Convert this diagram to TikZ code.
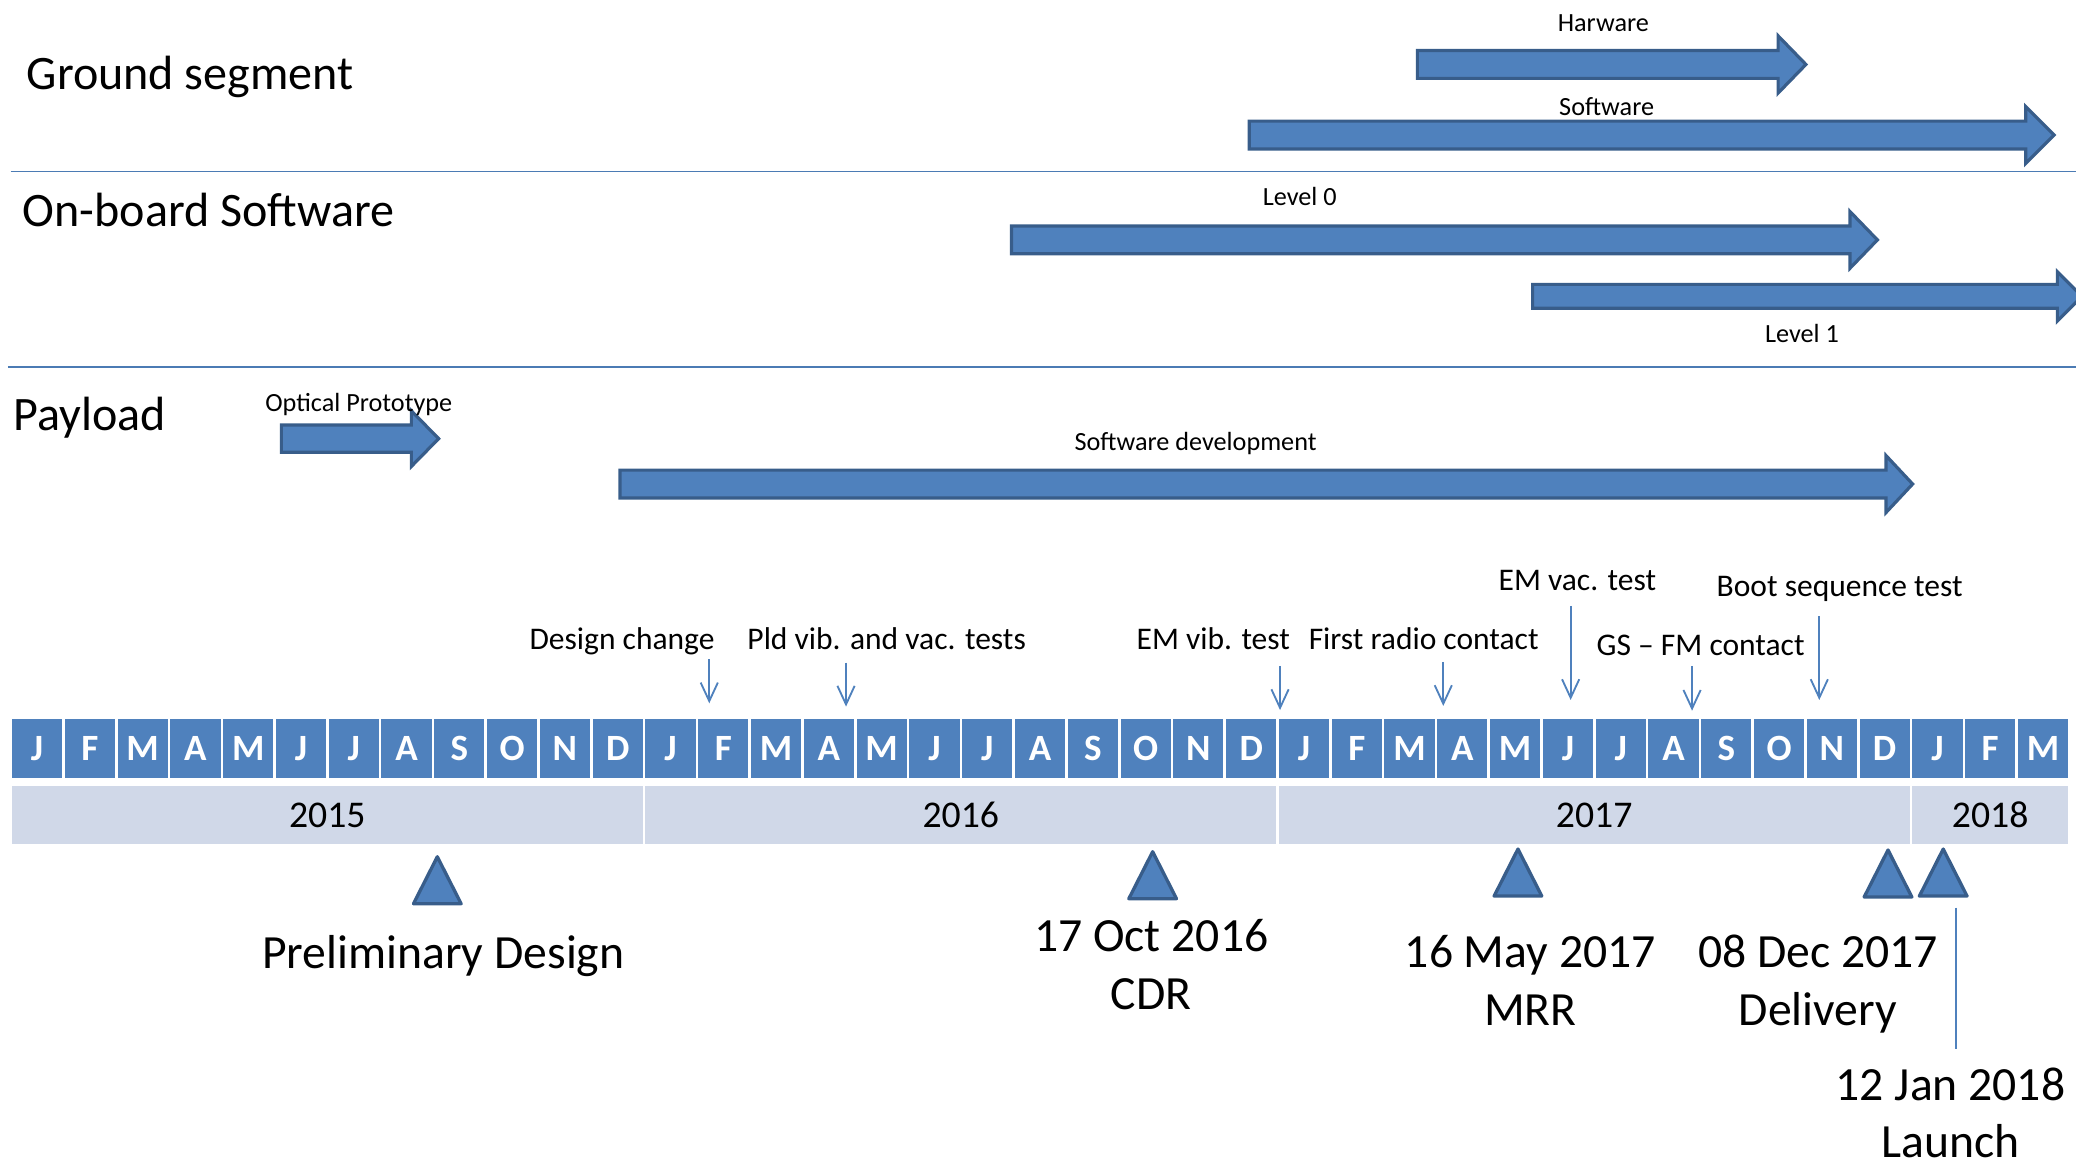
\documentclass[tikz,border=0pt]{standalone}
\usepackage{fontspec}
\setmainfont{Carlito}
\usetikzlibrary{arrows.meta}

\definecolor{barblue}{HTML}{4F81BD}
\definecolor{bardark}{HTML}{385D8A}
\definecolor{yearbg}{HTML}{D0D8E8}

\tikzset{
  section/.style={font=\fontsize{36.3}{43}\selectfont,anchor=base west,inner sep=0},
  barlabel/.style={font=\fontsize{19.8}{24}\selectfont,anchor=base,inner sep=0},
  evlabel/.style={font=\fontsize{23.8}{28}\selectfont,anchor=base,inner sep=0},
  mslabel/.style={font=\fontsize{36}{43.5}\selectfont,anchor=base,inner sep=0,align=center},
  month/.style={fill=barblue,text=white,inner sep=0,minimum width=37.9pt,minimum height=44.4pt,
    font=\bfseries\fontsize{28}{28}\selectfont},
  yearbox/.style={fill=yearbg,inner sep=0,minimum height=44pt,font=\fontsize{28.5}{28.5}\selectfont},
  blockarr/.style={fill=barblue,draw=bardark,line width=2.4pt,line join=miter},
  evarrow/.style={draw=barblue,line width=1.4pt,-{Straight Barb[length=14pt,width=13pt]}},
  mstone/.style={fill=barblue,draw=bardark,line width=2.5pt,line join=round},
  sepline/.style={draw=barblue!95!black,line width=1.4pt}
}

% start x, head base x, tip x, centre y, half shaft, half head
\newcommand{\blockarrow}[6]{%
  \draw[blockarr] (#1,#4-#5) -- (#2,#4-#5) -- (#2,#4-#6) -- (#3,#4) -- (#2,#4+#6)
    -- (#2,#4+#5) -- (#1,#4+#5) -- cycle;}
% apex x, apex y
\newcommand{\milestone}[2]{%
  \draw[mstone] (#1,#2+1.3) -- (#1+18,#2+36.8) -- (#1-18,#2+36.8) -- cycle;}

\begin{document}
\begin{tikzpicture}[x=1pt,y=-1pt]
\useasboundingbox (0,0) rectangle (1568,882);
\clip (0,0) rectangle (1568,882);

% sections
\node[section] (ground) at (20,67.5) {Ground segment};
\node[section] (obsw) at (17,171) {On-board Software};
\node[section] (payload) at (10,325.3) {Payload};
\draw[sepline] (8,129.5) -- (1568,129.5);
\draw[sepline] (6,277.5) -- (1568,277.5);

% work packages
\blockarrow{1070.5}{1343}{1364}{48.7}{10.5}{21.6}
\node[barlabel] (hw) at (1211,24) {Harware};
\blockarrow{943.6}{1530}{1551.4}{102}{10.5}{21.5}
\node[barlabel] (gssw) at (1213.5,87) {Software};
\blockarrow{764}{1397.3}{1418}{181.2}{10.5}{21.4}
\node[barlabel] (lvl0) at (981.7,155.4) {Level 0};
\blockarrow{1157.6}{1553.9}{1572.5}{223.8}{9}{18.6}
\node[barlabel] (lvl1) at (1361,258.8) {Level 1};
\blockarrow{212.5}{310.7}{331.3}{331.3}{10.3}{21}
\node[barlabel] (optic) at (271,311) {Optical Prototype};
\blockarrow{468.3}{1424.5}{1444.6}{365.6}{10.5}{21.5}
\node[barlabel] (swdev) at (903,340) {Software development};

% months
\foreach \m [count=\i from 0] in {J,F,M,A,M,J,J,A,S,O,N,D,J,F,M,A,M,J,J,A,S,O,N,D,
    J,F,M,A,M,J,J,A,S,O,N,D,J,F,M}{
  \node[month] (m\i) at (28+\i*39.87,565.2) {\m};
}

% years
\foreach \yr/\a/\b in {2015/0/12,2016/12/24,2017/24/36,2018/36/39}{
  \pgfmathsetmacro{\w}{(\b-\a)*39.87-2}
  \pgfmathsetmacro{\c}{9+\a*39.87+\w/2}
  \node[yearbox,minimum width=\w pt] (y\yr) at (\c,615.7) {\yr};
}

% tests and events
\node[evlabel] (design) at (469.8,490.4) {Design change};
\node[evlabel] (pld) at (669.7,490.4) {Pld vib. and vac. tests};
\node[evlabel] (emvib) at (916.4,490.4) {EM vib. test};
\node[evlabel] (radio) at (1075.3,490.4) {First radio contact};
\node[evlabel] (emvac) at (1191.4,446.1) {EM vac. test};
\node[evlabel] (gsfm) at (1284.5,495) {GS -- FM contact};
\node[evlabel] (boot) at (1389.5,450.7) {Boot sequence test};

\foreach \n/\x/\ya/\yb in {design/535.7/498/531.2,pld/639/500.5/533.7,emvib/966.8/503/536.3,
    radio/1090.1/500/533.2,emvac/1186.3/457.7/528.7,gsfm/1278/503/536.8,boot/1374.1/465.3/528.7}{
  \coordinate (\n-from) at (\x,\ya);
  \coordinate (\n-to) at (\x,\yb);
  \draw[evarrow] (\n-from) -- (\n-to);
}

% milestones
\milestone{330.3}{645.8}
\milestone{870.6}{642}
\milestone{1146.5}{640}
\milestone{1426}{640.7}
\milestone{1467.7}{640}

% base anchor sits on the last line
\node[mslabel] (prelim) at (334.8,731.4) {Preliminary Design};
\node[mslabel] (cdr) at (869.5,762.3) {17 Oct 2016\\CDR};
\node[mslabel] (mrr) at (1155.8,774.2) {16 May 2017\\MRR};
\node[mslabel] (deliv) at (1373,774.2) {08 Dec 2017\\Delivery};
\node[mslabel] (launch) at (1473.2,874.5) {12 Jan 2018\\Launch};

\coordinate (launch-top) at (1477.4,685.6);
\coordinate (launch-bot) at (1477.4,792.6);
\draw[barblue,line width=1.2pt] (launch-top) -- (launch-bot);
\end{tikzpicture}
\end{document}
